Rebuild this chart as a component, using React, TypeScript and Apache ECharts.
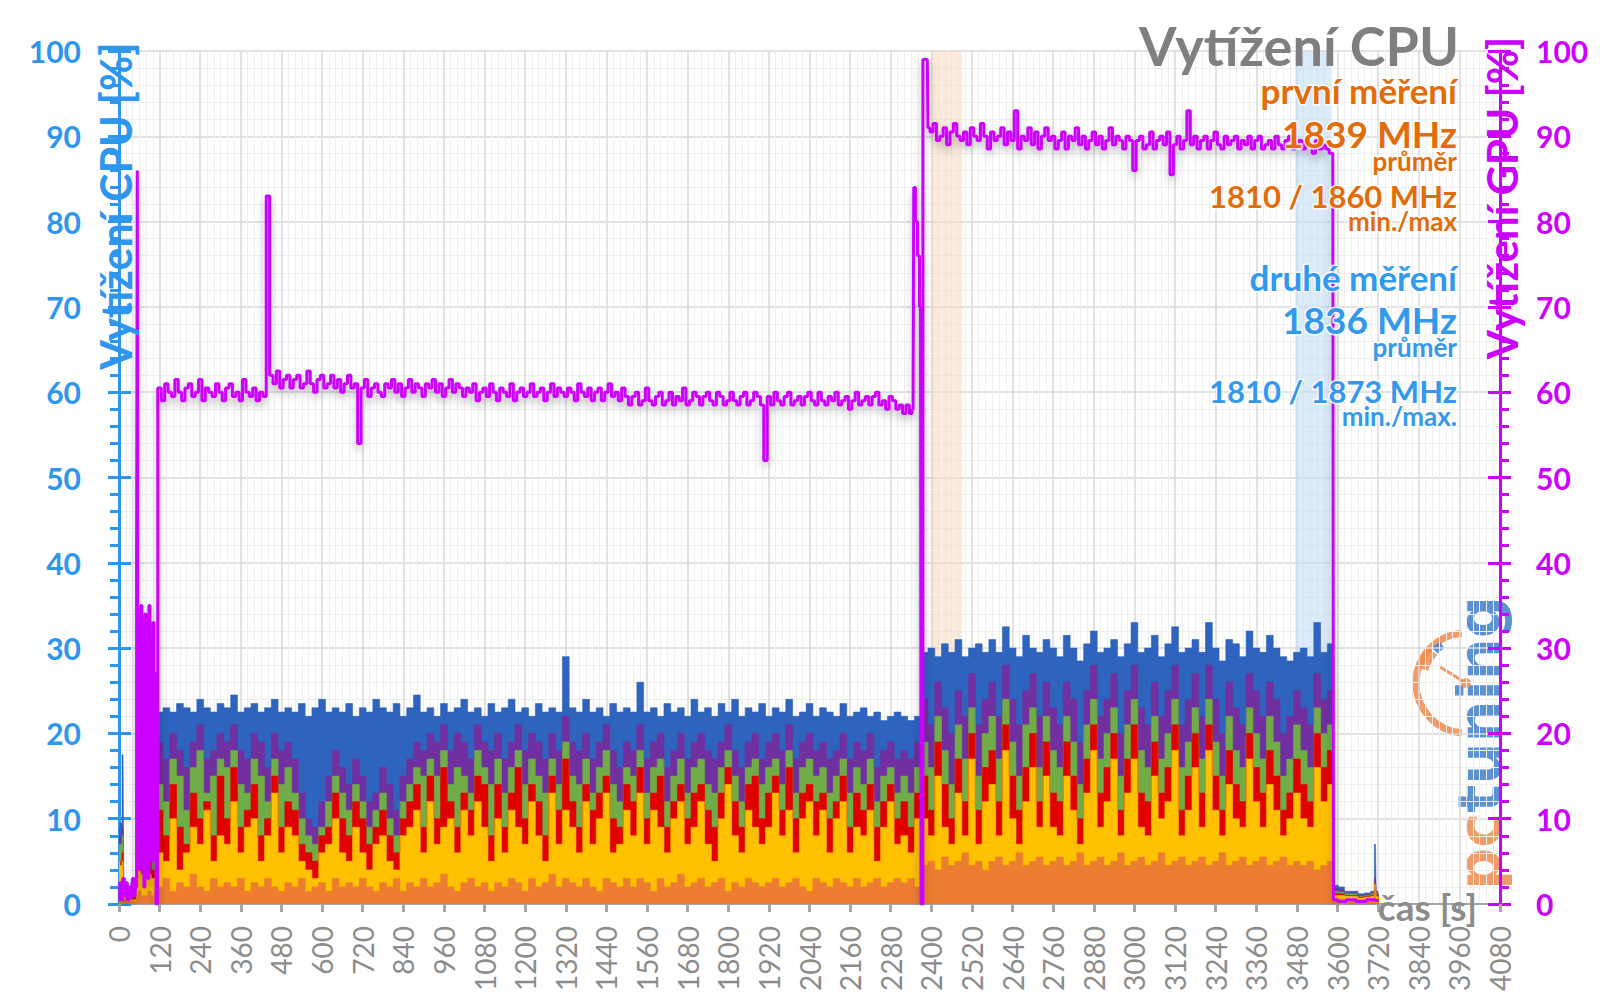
import React, { useEffect, useRef } from "react";
import * as echarts from "echarts";

const FONT = "Lato, 'Open Sans', sans-serif";
const CPU_AXIS = "#2e96ee";
const GPU_COLOR = "#cc00ff";
const ORANGE_TXT = "#e36c09";
const BLUE_TXT = "#3399ee";
const GRAY_TXT = "#7f7f7f";

// ---- sample times (s) of the CPU load records ----
const cpuEarlyTimes = [0, 6, 12, 16, 22, 30, 40, 48, 54, 60, 70, 80, 90, 100, 108];
const CPU_STEP = 20; // regular recording interval during the test (s)
const cpuMainStart = 120;
const cpuMainEnd = 3580;
const cpuLateTimes = [3594, 3610, 3630, 3650, 3670, 3690, 3706, 3712, 3716, 3722];

// ---- CPU load [%] (cumulative layers, drawn back to front) ----
const cpuBlue = [
  9, 9.5, 17.5, 3, 2, 1.5, 2.5, 2, 14, 27, 29, 30, 28.5, 27, 24,
  22.5, 23, 22.5, 23.5, 23, 22.5, 24, 23, 22.5, 23.5,
  23, 24.5, 22.5, 23, 23.5, 22.5, 23, 24, 22.5, 23,
  22.5, 23.5, 22, 23, 24, 22.5, 23, 22.5, 23.5, 22,
  23, 22.5, 24, 23, 22.5, 23.5, 22, 23, 24.5, 22.5,
  23, 22, 23.5, 22.5, 23, 24, 22.5, 23, 22, 23.5,
  22.5, 23, 24, 22.5, 23, 22, 23.5, 22.5, 23, 22.5,
  29, 23, 22.5, 24, 22.5, 23, 22, 23.5, 22.5, 23,
  22.5, 26, 22.5, 23, 22, 23.5, 22.5, 23, 22, 24,
  22.5, 23, 22, 23.5, 22.5, 24, 22, 23, 22.5, 23.5,
  22, 23, 22.5, 24, 22, 22.5, 23.5, 22, 23, 22.5,
  22, 23.5, 22, 22.5, 23, 22, 22.5, 21.5, 22, 22.5,
  22, 21.5, 22,
  29.5, 30, 29, 30.5, 29.5, 31, 29, 30, 30.5, 29.5,
  31, 29.5, 32.5, 30, 29, 31.5, 30, 29.5, 31, 30,
  29, 31.5, 30, 28.5, 30.5, 32, 29.5, 30, 31, 29,
  30.5, 33, 29.5, 30, 31.5, 29, 30.5, 32.5, 29.5, 30,
  31, 29.5, 33, 30, 28.5, 31, 30.5, 29, 32, 30,
  29.5, 31.5, 30, 29, 28.5, 29.5, 30, 29, 33, 29.5,
  30.5,
  2.2, 2, 1.5, 1.5, 1.2, 1.3, 1.5, 7, 1.5, 1.2,
];
const cpuPurple = [
  8, 8, 9, 2.5, 1.5, 1, 2, 1.5, 13, 25, 27, 22, 24, 21, 18,
  19, 17, 20, 18, 16, 19, 21, 17, 18, 20,
  19, 21, 18, 17, 20, 19, 16, 20, 18, 19,
  17, 13, 10, 9, 12, 15, 18, 16, 14, 17,
  15, 12, 13, 16, 14, 11, 15, 17, 19, 18,
  20, 19, 21, 18, 20, 19, 17, 21, 19, 18,
  20, 17, 19, 21, 18, 20, 19, 17, 20, 18,
  22, 19, 18, 20, 17, 19, 21, 18, 16, 19,
  18, 21, 17, 19, 20, 16, 18, 20, 17, 19,
  20, 18, 17, 19, 21, 18, 16, 19, 20, 17,
  19, 20, 18, 21, 17, 19, 20, 18, 19, 17,
  18, 20, 17, 19, 18, 20, 16, 18, 19, 17,
  18, 17, 19,
  24, 21, 26, 23, 20, 25, 22, 27, 21, 24,
  26, 22, 28, 24, 21, 25, 27, 22, 26, 23,
  21, 26, 24, 19, 25, 28, 22, 24, 27, 20,
  25, 28, 23, 21, 26, 22, 25, 28, 21, 24,
  27, 22, 28, 24, 20, 26, 23, 21, 27, 25,
  22, 26, 24, 20, 22, 25, 23, 21, 27, 24,
  25,
  1.8, 1.6, 1.3, 1.3, 1, 1.1, 1.3, 3, 1.3, 1,
];
const cpuGreen = [
  7, 7, 8, 2, 1, 1, 1.5, 1.5, 6, 8, 6, 7, 5, 6, 5,
  14, 12, 17, 15, 11, 16, 18, 13, 15, 17,
  16, 18, 14, 13, 17, 15, 12, 17, 14, 16,
  13, 10, 8, 7, 9, 12, 15, 13, 11, 14,
  12, 9, 11, 13, 10, 8, 12, 14, 16, 15,
  17, 15, 18, 14, 16, 15, 13, 18, 16, 14,
  17, 13, 16, 18, 14, 17, 15, 13, 17, 14,
  19, 15, 14, 17, 13, 16, 18, 14, 12, 16,
  15, 18, 13, 16, 17, 12, 15, 17, 13, 16,
  17, 14, 13, 16, 18, 15, 12, 16, 17, 14,
  16, 17, 14, 18, 13, 16, 17, 15, 16, 13,
  15, 17, 13, 16, 14, 17, 12, 15, 16, 13,
  15, 13, 16,
  19, 16, 22, 18, 14, 21, 17, 23, 15, 20,
  22, 17, 24, 19, 15, 21, 23, 16, 22, 18,
  16, 22, 19, 14, 21, 24, 17, 20, 23, 15,
  21, 24, 18, 16, 22, 17, 20, 24, 16, 19,
  23, 17, 24, 19, 15, 22, 18, 16, 23, 20,
  17, 22, 19, 15, 17, 21, 18, 16, 23, 20,
  21,
  1.5, 1.4, 1.2, 1.2, 0.9, 1, 1.2, 2.5, 1.2, 0.9,
];
const cpuRed = [
  5, 5, 6, 1.5, 1, 0.5, 1, 1, 4, 6, 5, 4.5, 5, 4, 4,
  11, 8, 14, 9, 7, 13, 10, 12, 8, 15,
  10, 16, 9, 11, 14, 8, 10, 15, 9, 12,
  11, 7, 6, 5, 8, 9, 13, 10, 8, 12,
  10, 7, 9, 11, 8, 6, 10, 12, 14, 9,
  15, 10, 16, 12, 9, 13, 11, 15, 14, 8,
  14, 9, 13, 16, 10, 14, 12, 8, 15, 11,
  17, 12, 9, 14, 11, 13, 15, 10, 9, 14,
  12, 16, 10, 13, 15, 9, 12, 14, 10, 13,
  14, 11, 9, 13, 16, 12, 9, 14, 15, 10,
  13, 15, 11, 16, 10, 13, 14, 12, 13, 10,
  12, 15, 9, 13, 11, 14, 9, 12, 14, 10,
  12, 9, 13,
  15, 11, 19, 14, 10, 17, 12, 20, 11, 16,
  18, 12, 21, 15, 11, 16, 20, 12, 19, 13,
  12, 19, 15, 10, 17, 21, 13, 16, 20, 11,
  17, 21, 13, 12, 19, 13, 16, 21, 11, 15,
  20, 13, 21, 15, 11, 18, 14, 12, 20, 16,
  13, 18, 15, 11, 13, 17, 14, 12, 20, 16,
  18,
  1.2, 1.2, 1, 1, 0.8, 0.9, 1, 2.5, 1, 0.8,
];
const cpuYellow = [
  5, 4.5, 5, 1, 0.5, 0.5, 0.5, 0.5, 3, 4, 3.5, 3, 3.5, 3, 3,
  6, 5, 10, 4, 6, 9, 7, 11, 5, 8,
  7, 12, 6, 9, 10, 5, 8, 13, 6, 9,
  8, 5, 4, 3, 6, 7, 10, 6, 5, 9,
  6, 4, 7, 8, 5, 4, 8, 9, 11, 6,
  12, 7, 9, 10, 6, 11, 8, 12, 9, 5,
  10, 6, 11, 9, 7, 12, 8, 5, 13, 7,
  11, 9, 6, 12, 7, 10, 13, 6, 7, 11,
  8, 13, 7, 11, 9, 6, 10, 12, 7, 9,
  12, 7, 5, 10, 14, 8, 6, 11, 9, 7,
  9, 13, 8, 11, 6, 10, 12, 8, 11, 6,
  10, 12, 6, 9, 8, 11, 5, 9, 12, 7,
  8, 6, 10,
  10, 8, 15, 9, 7, 13, 8, 17, 7, 12,
  14, 8, 18, 10, 7, 12, 16, 9, 15, 9,
  8, 15, 11, 7, 13, 18, 9, 12, 17, 8,
  13, 17, 9, 8, 15, 10, 12, 18, 8, 11,
  16, 9, 18, 11, 8, 14, 10, 9, 17, 12,
  9, 14, 11, 8, 10, 13, 10, 9, 16, 12,
  14,
  1, 1, 0.9, 0.9, 0.7, 0.8, 0.9, 2.3, 0.9, 0.7,
];
const cpuOrange = [
  1, 1, 1, 0.5, 0.5, 0.3, 0.3, 0.3, 1, 1.5, 1, 1, 1.5, 1, 1.5,
  2, 3, 1.5, 2.5, 2, 3.5, 2, 1.5, 3, 2,
  2.5, 2, 3, 1.5, 2.5, 2, 3, 2, 1.5, 2.5,
  2, 3, 1.5, 2, 2.5, 1.5, 3, 2, 2.5, 2,
  3, 2, 1.5, 2.5, 2, 3, 1.5, 2.5, 2, 3,
  2, 2.5, 3.5, 2, 1.5, 2.5, 3, 2, 2.5, 1.5,
  2.5, 2, 3, 2.5, 1.5, 3, 2, 2.5, 3.5, 2,
  3, 2.5, 2, 3, 2, 1.5, 3, 2.5, 2, 3,
  2, 3, 2.5, 1.5, 3, 2, 2.5, 3.5, 2, 2.5,
  3, 2, 2.5, 3, 1.5, 2.5, 2, 3, 2.5, 2,
  2.5, 3, 2, 2.5, 3, 2, 1.5, 3, 2.5, 2,
  3, 2.5, 2, 3, 2, 2.5, 3, 2, 2.5, 3,
  2.5, 3, 2,
  4.5, 5, 4, 5.5, 4.5, 5, 6, 4.5, 5, 4,
  5, 5.5, 4.5, 5, 6, 4.5, 5, 5.5, 4.5, 5,
  5.5, 4.5, 5, 6, 4.5, 5, 5.5, 4.5, 5, 6,
  4.5, 5, 5.5, 4.5, 5, 6, 4.5, 5, 5.5, 4.5,
  5, 5.5, 4.5, 5, 6, 4.5, 5, 5.5, 4.5, 5,
  5.5, 4.5, 5, 5.5, 4.5, 5, 4.5, 5, 4, 4.5,
  5,
  0.6, 0.6, 0.5, 0.5, 0.5, 0.5, 0.5, 1, 0.5, 0.5,
];

// ---- GPU load [%] ----
// start-up: [time s, value]
const gpuStartup: [number, number][] = [
  [0, 0.5], [5, 2.5], [9, 0.5], [13, 3], [17, 1], [22, 2.5], [27, 0.5], [32, 2], [37, 0.8], [42, 3], [47, 1], [51, 2],
  [53, 40], [55, 86], [57, 12], [60, 33], [63, 4], [66, 35], [69, 8], [72, 30], [75, 2], [78, 34], [81, 10], [84, 28],
  [87, 3], [90, 35], [93, 9], [96, 31], [99, 5], [102, 33], [105, 12], [108, 27], [111, 0], [113, 0], [116, 60.5],
];
// first run: one value every 10 s from 120 s to 2340 s
const GPU_STEP = 10;
const gpuRun1Start = 120;
const gpuRun1 = [
  60.5, 59, 61, 60, 59.5, 61.5, 60, 59, 60.5, 61,
  59.5, 60, 61.5, 59, 60.5, 60, 59.5, 61, 60, 59,
  60.5, 61, 59.5, 60, 59, 61.5, 60, 59.5, 60.5, 59,
  60, 59.5, 83, 62, 61, 62.5, 60.5, 61.5, 62, 60.5,
  61.5, 62, 60.5, 61, 62.5, 61, 60, 61.5, 62, 60.5,
  61, 62, 60.5, 61.5, 60, 61, 62, 60.5, 61, 54,
  60.5, 61.5, 59.5, 60.5, 61, 60, 59.5, 61, 60.5, 61.5,
  60, 61, 59.5, 60.5, 61.5, 60, 61, 60.5, 59.5, 61,
  60.5, 61.5, 60, 61, 59.5, 60.5, 61.5, 60, 61, 60.5,
  59.5, 60.5, 60, 61, 59, 60, 60.5, 59.5, 61, 60,
  59, 60.5, 60, 59.5, 61, 59, 60, 60.5, 59.5, 60,
  61, 59.5, 60, 60.5, 59, 60, 61, 59.5, 60.5, 60,
  59.5, 60.5, 60, 59, 61, 60, 59.5, 60.5, 59, 60,
  60.5, 59, 60, 61, 59.5, 60, 59, 60.5, 59.5, 58.5,
  59.5, 60, 58.5, 59, 60.5, 59, 58.5, 59.5, 60, 58.5,
  59, 60, 58.5, 59.5, 59, 60.5, 58.5, 59, 60, 59.5,
  58.5, 59.5, 60, 59, 58.5, 60, 59.5, 58.5, 59, 60,
  59, 58.5, 59.5, 60, 58.5, 59, 60, 59.5, 58.5, 52,
  59.5, 58.5, 60, 59, 58.5, 59.5, 60, 58.5, 59, 59.5,
  58.5, 59.5, 60, 59, 58.5, 60, 59, 58.5, 59.5, 59,
  60, 58.5, 59, 59.5, 58, 59, 60, 58.5, 59, 59.5,
  58.5, 59.5, 60, 58.5, 59, 58, 59.5, 59, 58, 58.5,
  57.5, 58.5, 57.5,
];
// switch between runs: [time s, value]
const gpuSwitch: [number, number][] = [
  [2346, 58], [2350, 84], [2356, 80], [2362, 76], [2368, 70], [2371, 0], [2374, 0], [2376, 99], [2388, 99], [2392, 91],
];
// second run: one value every 10 s from 2400 s to 3580 s
const gpuRun2Start = 2400;
const gpuRun2 = [
  90.5, 91.5, 89.5, 90, 91, 89, 90.5, 91.5, 90, 89.5,
  90.5, 89, 91, 90, 89.5, 91.5, 90, 88.5, 90.5, 89.5,
  90, 91, 89, 90.5, 89.5, 93, 88.5, 90, 89.5, 91,
  89, 90.5, 88.5, 90, 91, 89.5, 90, 88.5, 89.5, 90.5,
  88.5, 90, 89.5, 91, 89, 90, 88.5, 89.5, 90.5, 89,
  90, 88.5, 89.5, 91, 89, 90, 89.5, 88.5, 90, 89.5,
  86, 89.5, 90, 88.5, 89, 90.5, 88.5, 89.5, 90, 89,
  90.5, 85.5, 89, 90, 88.5, 89.5, 93, 89, 90, 88.5,
  89.5, 90, 88.5, 89.5, 90.5, 89, 88.5, 90, 89, 89.5,
  90, 88.5, 89.5, 89, 90, 88.5, 89.5, 90, 88.5, 89,
  89.5, 88.5, 90, 89, 88.5, 89.5, 90, 88.5, 89, 89.5,
  88.5, 89.5, 89, 88, 89.5, 88.5, 89, 88.5, 88,
];
// idle after the test: [time s, value]
const gpuIdle: [number, number][] = [
  [3586, 88], [3590, 0.5], [3610, 0.3], [3640, 0.5], [3670, 0.3], [3700, 0.5], [3722, 0.4],
];

// highlighted intervals (s)
const firstRun = [2400, 2490];
const secondRun = [3475, 3580];

const xMax = 4080;
const xInterval = 120;

function buildCpuTimes(): number[] {
  const t: number[] = [...cpuEarlyTimes];
  for (let s = cpuMainStart; s <= cpuMainEnd; s += CPU_STEP) t.push(s);
  return t.concat(cpuLateTimes);
}

function buildGpu(): [number, number][] {
  const r1 = gpuRun1.map((v, i) => [gpuRun1Start + i * GPU_STEP, v] as [number, number]);
  const r2 = gpuRun2.map((v, i) => [gpuRun2Start + i * GPU_STEP, v] as [number, number]);
  return [...gpuStartup, ...r1, ...gpuSwitch, ...r2, ...gpuIdle];
}

export default function App() {
  const ref = useRef<HTMLDivElement>(null);
  useEffect(() => {
    if (!ref.current) return;
    const chart = echarts.init(ref.current, undefined, { renderer: "svg" });
    const times = buildCpuTimes();
    const zip = (vals: number[]) => times.map((t, i) => [t, vals[i]]);

    const areaSeries = (name: string, vals: number[], color: string) => ({
      name,
      type: "line",
      data: zip(vals),
      step: "middle",
      symbol: "none",
      silent: true,
      lineStyle: { width: 0.6, color },
      areaStyle: { color, opacity: 1 },
      z: 2,
    });

    const txt = (text: string, y: number, size: number, color: string) => ({
      type: "text",
      x: 1457,
      y,
      z: 100,
      style: {
        text,
        fill: color,
        fontSize: size,
        fontWeight: "bold",
        fontFamily: FONT,
        align: "right",
        verticalAlign: "middle",
        stroke: "rgba(255,255,255,0.85)",
        lineWidth: 3,
      },
    });

    const deg = (d: number) => (d * Math.PI) / 180;

    chart.setOption({
      animation: false,
      grid: { left: 119, right: 100, top: 51, bottom: 95 },
      xAxis: {
        type: "value",
        min: 0,
        max: xMax,
        interval: xInterval,
        axisLine: { show: true, onZero: false, lineStyle: { color: "#a6a6a6", width: 2 } },
        axisTick: { show: true, length: 8, lineStyle: { color: "#a6a6a6", width: 3 } },
        axisLabel: {
          rotate: 90,
          color: "#8c8c8c",
          fontSize: 28,
          fontFamily: FONT,
          margin: 22,
          showMinLabel: true,
          showMaxLabel: true,
          formatter: (v: number) => String(v),
        },
        splitLine: { show: true, lineStyle: { color: "#d9d9d9", width: 1.5 } },
        minorTick: { show: false, splitNumber: 6 },
        minorSplitLine: { show: true, lineStyle: { color: "#efefef", width: 1 } },
      },
      yAxis: [
        {
          type: "value",
          position: "left",
          min: 0,
          max: 100,
          interval: 10,
          axisLine: { show: true, lineStyle: { color: CPU_AXIS, width: 3 } },
          axisTick: { show: true, length: 11, lineStyle: { color: CPU_AXIS, width: 3 } },
          minorTick: { show: true, splitNumber: 5, length: 9, lineStyle: { color: CPU_AXIS, width: 3 } },
          axisLabel: { color: CPU_AXIS, fontSize: 30, fontWeight: "bold", fontFamily: FONT, margin: 38 },
          splitLine: { show: true, lineStyle: { color: "#d9d9d9", width: 1.5 } },
          minorSplitLine: { show: true, lineStyle: { color: "#efefef", width: 1 } },
        },
        {
          type: "value",
          position: "right",
          min: 0,
          max: 100,
          interval: 10,
          axisLine: { show: true, lineStyle: { color: GPU_COLOR, width: 3 } },
          axisTick: { show: true, length: 11, lineStyle: { color: GPU_COLOR, width: 3 } },
          minorTick: { show: true, splitNumber: 5, length: 9, lineStyle: { color: GPU_COLOR, width: 3 } },
          axisLabel: { color: GPU_COLOR, fontSize: 30, fontWeight: "bold", fontFamily: FONT, margin: 36 },
          splitLine: { show: false },
        },
        {
          type: "value",
          position: "left",
          min: 0,
          max: 100,
          interval: 10,
          axisLine: { show: false },
          axisTick: { show: true, inside: true, length: 12, lineStyle: { color: CPU_AXIS, width: 3 } },
          axisLabel: { show: false },
          splitLine: { show: false },
        },
        {
          type: "value",
          position: "right",
          min: 0,
          max: 100,
          interval: 10,
          axisLine: { show: false },
          axisTick: { show: true, inside: true, length: 12, lineStyle: { color: GPU_COLOR, width: 3 } },
          axisLabel: { show: false },
          splitLine: { show: false },
        },
      ],
      series: [
        {
          name: "bands",
          type: "line",
          data: [],
          z: 1,
          markArea: {
            silent: true,
            data: [
              [
                { xAxis: firstRun[0], itemStyle: { color: "rgba(250,215,185,0.5)" } },
                { xAxis: firstRun[1] },
              ],
              [
                { xAxis: secondRun[0], itemStyle: { color: "rgba(190,218,245,0.55)" } },
                { xAxis: secondRun[1] },
              ],
            ],
          },
        },
        areaSeries("CPU 6", cpuBlue, "#2e63be"),
        areaSeries("CPU 5", cpuPurple, "#7030a0"),
        areaSeries("CPU 4", cpuGreen, "#70ad47"),
        areaSeries("CPU 3", cpuRed, "#e00000"),
        areaSeries("CPU 2", cpuYellow, "#ffc000"),
        areaSeries("CPU 1", cpuOrange, "#ed7d31"),
        {
          name: "GPU",
          type: "line",
          yAxisIndex: 1,
          data: buildGpu(),
          step: "middle",
          symbol: "none",
          silent: true,
          z: 3,
          lineStyle: {
            color: GPU_COLOR,
            width: 3,
            shadowColor: "rgba(0,0,0,0.25)",
            shadowBlur: 8,
            shadowOffsetY: 5,
          },
        },
      ],
      graphic: [
        {
          type: "text",
          x: 115,
          y: 206,
          rotation: Math.PI / 2,
          z: 100,
          style: {
            text: "Vytížení CPU [%]",
            fill: CPU_AXIS,
            fontSize: 43,
            fontWeight: "bold",
            fontFamily: FONT,
            align: "center",
            verticalAlign: "middle",
          },
        },
        {
          type: "text",
          x: 1502,
          y: 198,
          rotation: Math.PI / 2,
          z: 100,
          style: {
            text: "Vytížení GPU [%]",
            fill: GPU_COLOR,
            fontSize: 42,
            fontWeight: "bold",
            fontFamily: FONT,
            align: "center",
            verticalAlign: "middle",
          },
        },
        {
          type: "text",
          x: 1459,
          y: 45,
          z: 100,
          style: {
            text: "Vytížení CPU",
            fill: GRAY_TXT,
            fontSize: 54,
            fontWeight: "bold",
            fontFamily: FONT,
            align: "right",
            verticalAlign: "middle",
          },
        },
        txt("první měření", 90, 35, ORANGE_TXT),
        txt("1839 MHz", 133, 37, ORANGE_TXT),
        txt("průměr", 161, 26, ORANGE_TXT),
        txt("1810 / 1860 MHz", 196, 31, ORANGE_TXT),
        txt("min./max", 221, 26, ORANGE_TXT),
        txt("druhé měření", 277, 35, BLUE_TXT),
        txt("1836 MHz", 319, 37, BLUE_TXT),
        txt("průměr", 347, 26, BLUE_TXT),
        txt("1810 / 1873 MHz", 391, 31, BLUE_TXT),
        txt("min./max.", 416, 26, BLUE_TXT),
        {
          type: "text",
          x: 1477,
          y: 906,
          z: 100,
          style: {
            text: "čas [s]",
            fill: "#8c8c8c",
            fontSize: 37,
            fontWeight: "bold",
            fontFamily: FONT,
            align: "right",
            verticalAlign: "middle",
          },
        },
        // pctuning watermark
        {
          type: "group",
          z: 90,
          children: [
            {
              type: "text",
              x: 1479,
              y: 743,
              rotation: Math.PI / 2,
              style: {
                text: "{o|pc}{b|tuning}",
                fontSize: 59,
                fontWeight: "bold",
                fontFamily: "'DejaVu Sans', sans-serif",
                align: "center",
                verticalAlign: "middle",
                opacity: 0.85,
                rich: {
                  o: { fill: "#f08c4f", fontSize: 59, fontWeight: "bold", fontFamily: "'DejaVu Sans', sans-serif" },
                  b: { fill: "#3f7fc9", fontSize: 59, fontWeight: "bold", fontFamily: "'DejaVu Sans', sans-serif" },
                },
              },
            },
            {
              type: "arc",
              shape: { cx: 1466, cy: 683, r: 50, startAngle: deg(95), endAngle: deg(265), clockwise: true },
              style: { stroke: "#f08c4f", lineWidth: 7, fill: "none", opacity: 0.85 },
            },
            {
              type: "arc",
              shape: { cx: 1466, cy: 683, r: 46, startAngle: deg(198), endAngle: deg(224), clockwise: true },
              style: { stroke: "#f08c4f", lineWidth: 12, fill: "none", opacity: 0.85 },
            },
            {
              type: "arc",
              shape: { cx: 1466, cy: 683, r: 45, startAngle: deg(226), endAngle: deg(238), clockwise: true },
              style: { stroke: "#3f7fc9", lineWidth: 8, fill: "none", opacity: 0.85 },
            },
            {
              type: "line",
              shape: { x1: 1466, y1: 683, x2: 1440, y2: 667 },
              style: { stroke: "#f08c4f", lineWidth: 3, opacity: 0.85 },
            },
            {
              type: "circle",
              shape: { cx: 1466, cy: 683, r: 5 },
              style: { fill: "#f08c4f", opacity: 0.85 },
            },
          ],
        },
      ],
    });
    return () => chart.dispose();
  }, []);
  return (
    <div
      ref={ref}
      style={{ position: "absolute", left: 0, top: 0, width: 1600, height: 999, background: "#ffffff" }}
    />
  );
}
